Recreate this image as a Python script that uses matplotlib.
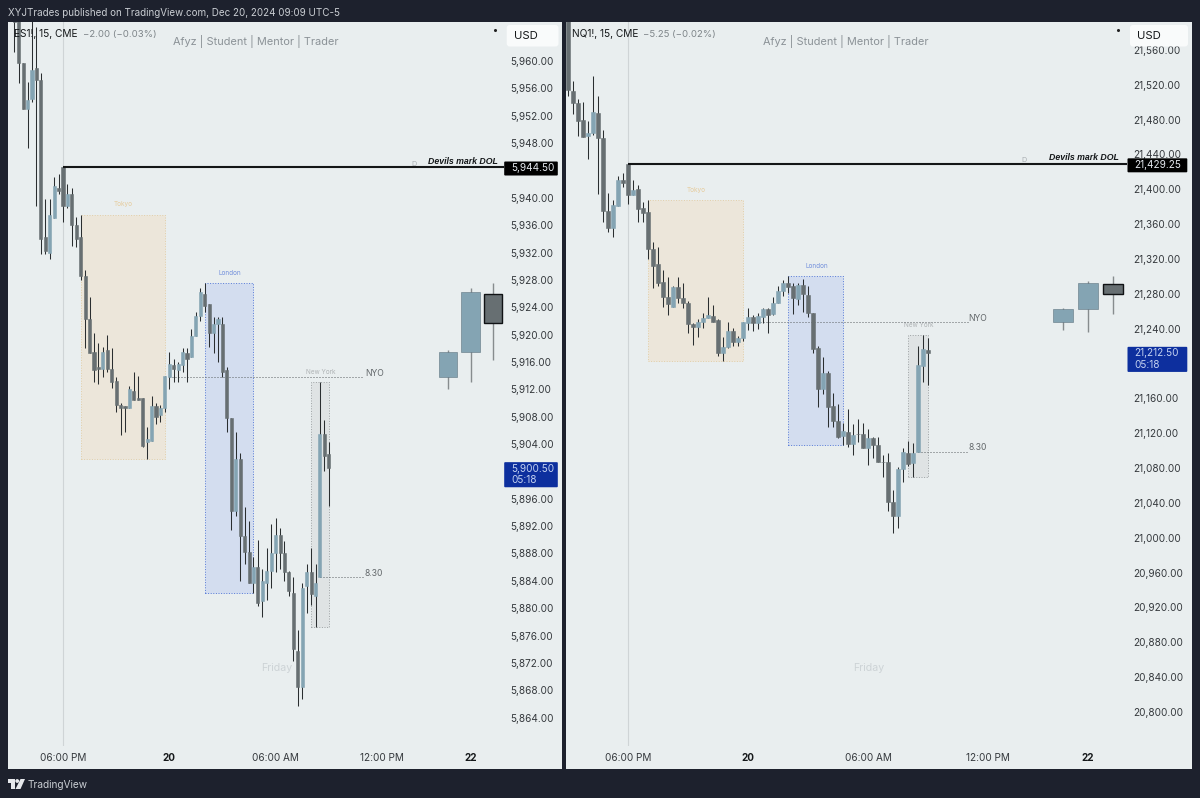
import matplotlib
matplotlib.use('Agg')
import matplotlib.pyplot as plt
from matplotlib.patches import Rectangle, FancyBboxPatch, Polygon, Circle

plt.rcParams['font.family'] = ['Inter', 'DejaVu Sans']

W, H = 1200, 798

# ES1! 15m candles, first entry is 11 bars before the 18:00 open
es_open = [5968, 5966, 5959.75, 5953, 5954.5, 5959, 5957.25, 5934.25, 5932, 5937, 5941.5, 5944.5,
           5938.75, 5940.5, 5936, 5934.25, 5928.5, 5922.25, 5917.5, 5915.25, 5915, 5917.75, 5915, 5913.25,
           5909.75, 5909.5, 5909.25, 5911.75, 5910.75, 5910.75, 5904.25, 5904.5, 5909.5, 5908.25, 5909.25, 5913.75,
           5915.5, 5914.75, 5915.5, 5917.25, 5916.75, 5919.75, 5922.75, 5926, 5924.5, 5920.25, 5921.5, 5921.5,
           5914.75, 5907.75, 5894.25, 5901.75, 5890.5, 5888.25, 5883.75, 5886, 5881, 5883.75, 5885.5, 5888,
           5890.75, 5888, 5885.25, 5882.25, 5873.75, 5868.5, 5883.25, 5885.25, 5881.75, 5884.5, 5905.5, 5902.5]
es_high = [5970, 5968, 5959.75, 5957, 5966, 5965, 5958.25, 5939.75, 5939.75, 5943, 5943.5, 5944.5,
           5942, 5941.5, 5937.25, 5937.5, 5929.5, 5925.5, 5920.25, 5918.75, 5918.25, 5920, 5918, 5913.75,
           5910, 5909.5, 5912.5, 5914.5, 5914, 5910.75, 5906.5, 5911, 5910, 5909.75, 5914, 5917.5,
           5916.5, 5916, 5918, 5918, 5920.75, 5923.25, 5926.75, 5927.5, 5924.5, 5922.5, 5922.5, 5922.5,
           5915.25, 5907.75, 5905.75, 5902.75, 5894.75, 5892.75, 5887.5, 5890, 5885.75, 5888.75, 5892.25, 5893.25,
           5891.75, 5889.75, 5885.5, 5884.5, 5876.75, 5883.75, 5886.5, 5888.75, 5886.5, 5913, 5907.5, 5904.25]
es_low = [5961.25, 5956.75, 5953, 5947.25, 5954, 5938.75, 5931.75, 5931.75, 5931, 5937, 5940.5, 5936.5,
          5938.5, 5933, 5932.75, 5928, 5918, 5917.25, 5913, 5912.75, 5913.75, 5914.5, 5912.25, 5908.75,
          5905.25, 5905.75, 5909.25, 5910.5, 5910.5, 5903.5, 5901.75, 5904.5, 5907, 5907.25, 5908.75, 5912,
          5913, 5913, 5914.5, 5913, 5916.75, 5919.75, 5922, 5923.25, 5918.25, 5917.25, 5916, 5913.75,
          5905.75, 5891.5, 5893.5, 5884, 5886.5, 5883.75, 5882.25, 5880.25, 5878.75, 5881.25, 5883, 5885.25,
          5885.75, 5884, 5881.75, 5872.25, 5865.75, 5866.75, 5879.25, 5880.5, 5877.25, 5884.5, 5900, 5895]
es_close = [5965.75, 5959.75, 5953, 5954.25, 5958.75, 5957.25, 5934, 5932.25, 5937.5, 5941.75, 5941, 5938.75,
            5940.5, 5936, 5934, 5928.5, 5922.25, 5917.25, 5914.75, 5915, 5917.5, 5915, 5913, 5909.75,
            5909.25, 5909.25, 5912, 5910.5, 5910.5, 5903.75, 5904.75, 5909.5, 5908, 5909.25, 5914, 5915.75,
            5915, 5915.75, 5917.5, 5916.5, 5919.75, 5922.75, 5926.25, 5924.25, 5920.25, 5921.5, 5922.25, 5914.5,
            5907.75, 5894.25, 5901.75, 5890.5, 5888.25, 5883.75, 5886, 5880.75, 5884, 5885.5, 5888, 5890.75,
            5888, 5885.25, 5882.5, 5874, 5868.5, 5883, 5885.25, 5882, 5883.75, 5905.5, 5902.25, 5900.5]

# NQ1! 15m candles, first entry is 12 bars before the 18:00 open
nq_open = [21610, 21513, 21499.5, 21479.5, 21461.25, 21464.25, 21488, 21458.5, 21375.5, 21355.25, 21380.75, 21410.75, 21429.25,
           21393.5, 21400.25, 21378.25, 21373.5, 21331.5, 21314, 21293.25, 21276.75, 21265.25, 21288.25, 21275.5, 21269,
           21245.5, 21241.5, 21247.25, 21252, 21254.5, 21250, 21212.5, 21218.5, 21237.75, 21224.5, 21229.5, 21247,
           21253.75, 21246.25, 21253.75, 21262.25, 21256.75, 21269.75, 21283.25, 21292, 21289, 21273.75, 21290, 21278.75,
           21258.25, 21217.5, 21170.5, 21189.5, 21151.25, 21134.5, 21116.75, 21121.5, 21107.5, 21119.25, 21119, 21103.5,
           21114, 21106.5, 21087.5, 21086.5, 21041.5, 21025.25, 21078.5, 21097.5, 21085.25, 21098, 21197.5, 21215.5]
nq_high = [21620, 21524.75, 21503.25, 21500.5, 21478.5, 21530, 21507, 21468, 21395.75, 21387.75, 21415.25, 21418.5, 21429.25,
           21410.75, 21405, 21385.75, 21387.75, 21339.75, 21333.5, 21307.5, 21299, 21289.25, 21299.75, 21292, 21271.75,
           21246.25, 21251, 21258.25, 21276.75, 21267.25, 21250.75, 21230, 21247.25, 21240.5, 21232, 21248, 21263.5,
           21255.75, 21257.5, 21263.5, 21263.5, 21276.75, 21289, 21296, 21300.5, 21292, 21292.75, 21296.75, 21289,
           21258.25, 21220, 21207, 21191.75, 21166.5, 21153.5, 21132, 21147.5, 21130.5, 21136, 21132, 21124.5,
           21116, 21115.25, 21095, 21097.5, 21054.75, 21081, 21102.75, 21111.5, 21108.5, 21220, 21232.75, 21229.5]
nq_low = [21507, 21486.5, 21461.25, 21460.5, 21434.75, 21462.25, 21394.5, 21362.5, 21351, 21345.25, 21380.75, 21403, 21383,
          21393.5, 21362.5, 21362.5, 21320, 21286.25, 21289, 21264.5, 21255.75, 21264.5, 21269.75, 21263.5, 21235.5,
          21221.25, 21230, 21240.5, 21252, 21248, 21208.5, 21203.25, 21217.5, 21220, 21220, 21226.25, 21238.5,
          21237.75, 21239.25, 21246.25, 21235.5, 21255.75, 21269.75, 21277.5, 21280.5, 21256.75, 21267.25, 21259.5, 21253,
          21212.5, 21149.75, 21164.75, 21127.5, 21127.5, 21114, 21106.5, 21104.5, 21095, 21110.25, 21102.75, 21083.5,
          21091.25, 21087.25, 21070, 21031, 21005.75, 21010.75, 21064.25, 21082.75, 21069.5, 21098, 21179, 21175.25]
nq_close = [21514, 21499.5, 21478.75, 21460.5, 21465, 21488.5, 21458.5, 21375.5, 21355.25, 21382, 21410.75, 21407, 21393.5,
            21399.25, 21377.75, 21373, 21331.5, 21312.25, 21292, 21276.75, 21268.25, 21288.25, 21275, 21269, 21245,
            21241.5, 21248, 21252.5, 21255.75, 21248, 21211.75, 21218.5, 21237.75, 21224.5, 21229.5, 21247.25, 21253.75,
            21247, 21254.5, 21262.25, 21255.75, 21269.75, 21283.5, 21292.75, 21288.25, 21275, 21290, 21279.5, 21258.25,
            21216.25, 21170.5, 21188.75, 21149.75, 21134.5, 21116, 21122.25, 21107.5, 21118, 21119, 21102.75, 21114,
            21106.5, 21087.25, 21087.25, 21041.5, 21025.25, 21078.5, 21098.75, 21084.5, 21097.5, 21198.25, 21216.75, 21212.5]

# higher timeframe candles projected right of the chart
es_htf_open = [5913.75, 5917.5, 5926]
es_htf_high = [5917.75, 5926.75, 5927.5]
es_htf_low = [5912, 5913, 5916.25]
es_htf_close = [5917.5, 5926.25, 5921.75]
nq_htf_open = [21247.25, 21262.5, 21291.75]
nq_htf_high = [21263.5, 21295, 21300.5]
nq_htf_low = [21238.5, 21235.75, 21256.5]
nq_htf_close = [21262.25, 21292, 21279.75]

# session ranges: bar from, bar to, high, low
es_sessions = {'Tokyo': (4, 23, 5937.5, 5901.75),
               'London': (32, 43, 5927.5, 5882.25),
               'New York': (56, 60, 5913, 5877.25)}
nq_sessions = {'Tokyo': (4, 23, 21387.25, 21203.25),
               'London': (32, 43, 21300.5, 21106.5),
               'New York': (56, 60, 21232.75, 21069.5)}

time_ticks = [0, 24, 48, 72, 92]
time_labels = ['06:00 PM', '20', '06:00 AM', '12:00 PM', '22']
# the scale skips the steps sitting under the price flags
es_ticks = [t for t in range(5864, 5964, 4) if t not in (5900, 5944)]
nq_ticks = [t for t in range(20800, 21600, 40) if t != 21200]

DARK = '#1d212d'
PANEL = '#e9eeef'
DOWN = '#676f72'
UP = '#84a4b3'
WICK = '#2a2e30'
SESSION_STYLE = {'Tokyo': ('#ece6da', '#e3cfa8', '#e6cb9c'),
                 'London': ('#d3ddef', '#5b7dd8', '#7390dc'),
                 'New York': ('#dfe3e4', '#a0a4a6', '#aeb2b4')}

fig = plt.figure(figsize=(W / 100, H / 100), dpi=100, facecolor=DARK)

# px based layers under and over the chart axes
under = fig.add_axes([0, 0, 1, 1], zorder=-1)
under.set_xlim(0, W)
under.set_ylim(H, 0)
under.axis('off')
over = fig.add_axes([0, 0, 1, 1], zorder=5)
over.set_xlim(0, W)
over.set_ylim(H, 0)
over.axis('off')
over.patch.set_alpha(0)


def draw_candles(ax, xs, o, h, l, c, width, wick=WICK, wick_lw=0.75, edge=None):
    for x, op, hi, lo, cl in zip(xs, o, h, l, c):
        col = UP if cl >= op else DOWN
        ax.vlines(x, lo, hi, colors=wick, linewidth=wick_lw, zorder=3)
        ax.bar(x, abs(cl - op), bottom=min(op, cl), width=width, color=col,
               edgecolor=edge or col, linewidth=0.4, zorder=4)


def price_box(ax, price, lines, color, x0, x1):
    y = H - ax.transData.transform((0, price))[1]
    if len(lines) == 1:
        top, bottom = y - 5.5, y + 8.5
        text_color, shift = '#e4e8ee', 1
    else:
        top, bottom = y - 5.8, y + 19.3
        text_color, shift = '#c3d1f0', 0.8
    over.add_patch(FancyBboxPatch((x0, top), x1 - x0, bottom - top, boxstyle='round,pad=0,rounding_size=1',
                                  fc=color, ec='none'))
    for i, line in enumerate(lines):
        over.text(x0 + 6.8, y + shift + i * 11.4, line, color=text_color, fontsize=7.2, va='center', ha='left')


def draw_panel(px_left, px_right, panel_right, px_per_bar, x0_px, y_top, y_bottom, first_bar, o, h, l, c,
               ho, hh, hl, hc, sessions, yticks, symbol, change, change_px, title_px, last, level, nyo, open_830):
    under.add_patch(Rectangle((px_left, 22), panel_right - px_left, 747, fc=PANEL, ec='none'))
    ax = fig.add_axes([px_left / W, 1 - 746 / H, (px_right - px_left) / W, (746 - 22) / H], zorder=1)
    ax.patch.set_alpha(0)
    ax.set_xlim((px_left - x0_px) / px_per_bar, (px_right - x0_px) / px_per_bar)
    ax.set_ylim(y_bottom, y_top)
    for s in ax.spines.values():
        s.set_visible(False)
    ax.yaxis.tick_right()
    ax.set_yticks(yticks, [f'{t:,.2f}' for t in yticks])
    ax.set_xticks(time_ticks, time_labels)
    ax.tick_params(axis='both', length=0, labelcolor='#35393d', labelsize=7.2)
    ax.tick_params(axis='y', pad=4.6)
    ax.tick_params(axis='x', pad=5.2)
    for lab in ax.get_xticklabels():
        if lab.get_text() in ('20', '22'):
            lab.set_fontweight('bold')
            lab.set_color('#15181a')

    ax.axvline(0, color='#cfd4d6', lw=0.8, zorder=1)

    # session boxes and their names
    for name, (b0, b1, hi, lo) in sessions.items():
        fill, edge, label = SESSION_STYLE[name]
        ax.add_patch(Rectangle((b0, lo), b1 - b0, hi - lo, fc=fill, ec=edge, lw=0.72, ls=(0, (1, 1.6)), zorder=2))
        ax.annotate(name, ((b0 + b1) / 2, hi), xytext=(0.6, 7.5), textcoords='offset points', ha='center',
                    va='center', color=label, fontsize=4.6, zorder=2)

    # NY midnight open and 8:30 open rays
    for start, price, name in [(24, nyo, 'NYO'), (58, open_830, '8.30')]:
        ax.hlines(price, start, 68, color='#5d6265', lw=0.72, ls=(0, (1, 2)), zorder=2)
        ax.annotate(name, (68, price), xytext=(0.4, 2.7), textcoords='offset points', ha='left', va='center',
                    color='#62676a', fontsize=6.2)

    xs = [first_bar + i for i in range(len(o))]
    draw_candles(ax, xs, o, h, l, c, 0.7)
    draw_candles(ax, [87, 92, 97], ho, hh, hl, hc, 4.1, wick='#878c8e', wick_lw=1.0, edge='#5f7480')
    # dark projected candle carries a black outline
    ax.bar(97, abs(hc[2] - ho[2]), bottom=min(ho[2], hc[2]), width=4.1, color=DOWN, edgecolor='#101214',
           linewidth=1.0, zorder=5)

    # liquidity level
    ax.hlines(level, 0, ax.get_xlim()[1], color='#141617', lw=1.5, zorder=5)
    ax.annotate('D', (79.2, level), xytext=(0, 2.4), textcoords='offset points', ha='center', va='center',
                color='#a9aeb1', fontsize=5.2)
    ax.annotate('Devils mark DOL', (98.2, level), xytext=(0, 4.2), textcoords='offset points', ha='right',
                va='center', color='#15181a', fontsize=6.3, fontstyle='italic', fontweight='bold',
                family='Liberation Sans')

    # header and watermark text
    over.text(px_left + 6, 34, symbol, color='#15181a', fontsize=7.3, va='center', zorder=6)
    over.text(change_px, 34, change, color='#7d8488', fontsize=6.9, va='center', zorder=6)
    over.text(title_px, 41, 'Afyz | Student | Mentor | Trader', color='#8b9297', fontsize=7.9,
              ha='center', va='center')
    over.text(x0_px + 48 * px_per_bar + 1, 668, 'Friday', color='#cdd3d6', fontsize=7.6, ha='center', va='center')

    # price scale flags
    flag_right = panel_right - 4.2
    price_box(ax, level, [f'{level:,.2f}'], '#000000', px_right + 0.5, flag_right)
    price_box(ax, last, [f'{last:,.2f}', '05:18'], '#0d2f9e', px_right + 0.5, flag_right)
    over.add_patch(FancyBboxPatch((px_right + 3, 25), panel_right - px_right - 6.5, 21.5,
                                  boxstyle='round,pad=0,rounding_size=3', fc='#f9fbfb', ec='none'))
    over.text(px_right + 10, 35.8, 'USD', color='#15181a', fontsize=8.2, va='center')
    over.plot([px_right - 9], [30], marker='o', ms=1.2, color='#222222')
    return ax


draw_panel(8, 503.7, 562, 4.43, 63, 5965.70, 5859.85, -11, es_open, es_high, es_low, es_close,
           es_htf_open, es_htf_high, es_htf_low, es_htf_close, es_sessions, es_ticks,
           'ES1!, 15, CME', '\u22122.00 (\u22120.03%)', 83, 256, 5900.50, 5944.50, 5913.75, 5884.5)
draw_panel(566, 1127, 1191.5, 5.0, 628, 21592.06, 20760.9, -12, nq_open, nq_high, nq_low, nq_close,
           nq_htf_open, nq_htf_high, nq_htf_low, nq_htf_close, nq_sessions, nq_ticks,
           'NQ1!, 15, CME', '\u22125.25 (\u22120.02%)', 643, 846, 21212.50, 21429.25, 21247.25, 21098.75)

# top strip and footer logo
over.text(8, 12.5, 'XYJTrades published on TradingView.com, Dec 20, 2024 09:09 UTC-5', color='#c9cdd2',
          fontsize=7.1, va='center')
over.add_patch(Polygon([(8, 779), (15, 779), (15, 789), (11, 789), (11, 783), (8, 783)], fc='#e6e8ec', ec='none'))
over.add_patch(Circle((17.2, 781), 1.9, fc='#e6e8ec', ec='none'))
over.add_patch(Polygon([(20.5, 779), (25, 779), (20.5, 789), (15.5, 789)], fc='#e6e8ec', ec='none'))
over.text(27.7, 784.5, 'TradingView', color='#c9cdd2', fontsize=7.3, va='center')

fig.savefig('out.png', dpi=100, facecolor=DARK)
